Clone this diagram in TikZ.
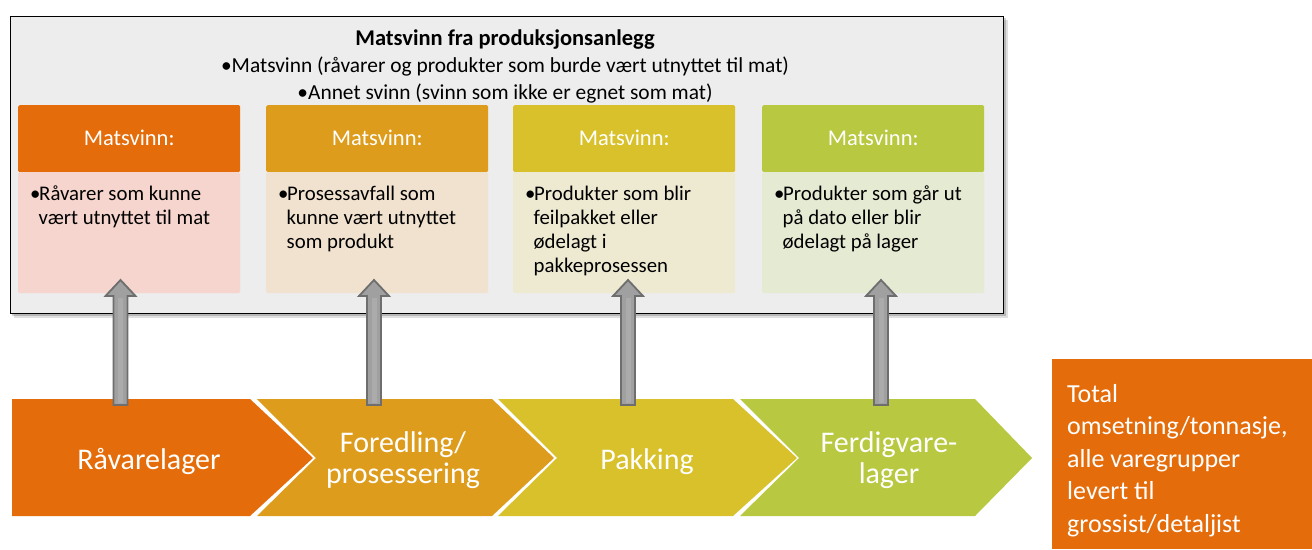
\documentclass[tikz,border=0pt]{standalone}
\usepackage{fontspec}
\setmainfont{Carlito}
\usetikzlibrary{calc}
\definecolor{cA}{HTML}{E46C0A}
\definecolor{cB}{HTML}{DD9C1C}
\definecolor{cC}{HTML}{D8C12A}
\definecolor{cD}{HTML}{B8C840}
\definecolor{lA}{HTML}{F5D5CD}
\definecolor{lB}{HTML}{F1E2CF}
\definecolor{lC}{HTML}{EEEAD2}
\definecolor{lD}{HTML}{E5EAD3}
\definecolor{panel}{HTML}{EDEDED}
\definecolor{arrfill}{HTML}{A0A0A0}
\definecolor{arrline}{HTML}{6E6E6E}
\newcommand{\bl}{\makebox[9pt][l]{•}}
\newcommand{\ind}{\hspace*{8.5pt}}
\tikzset{
  hdr/.style={minimum width=222pt, minimum height=67pt, inner sep=0pt, rounded corners=1.5pt},
  bodybox/.style={anchor=north west, minimum width=222pt, minimum height=121pt, inner sep=0pt, rounded corners=1.5pt},
  bodytxt/.style={anchor=base west, inner sep=0pt, font=\fontsize{20.8}{24}\selectfont},
  titletxt/.style={anchor=base, inner sep=0pt, font=\fontsize{21.4}{24}\selectfont},
  chevtxt/.style={anchor=base, inner sep=0pt, text=white, font=\fontsize{30}{31.5}\selectfont},
  garrow/.style={fill=arrfill, draw=arrline, line width=1.8pt, line join=miter},
}
\newcommand{\chev}[5]{% color, start, topright, tip, notched(1/0)
  \fill[#1] (#2,399) -- (#3,399) -- (#4,458) -- (#3,516) -- (#2,516)
    \ifnum#5=1 -- ($(#2,458)+(59,0)$)\fi -- cycle;}
\newcommand{\uparr}[2]{% start coordinate, end coordinate
  \draw[garrow] ($(#1)+(-7,0)$) -- ($(#2)+(-7,16)$) -- ($(#2)+(-15,16)$) -- (#2)
    -- ($(#2)+(15,16)$) -- ($(#2)+(7,16)$) -- ($(#1)+(7,0)$) -- cycle;
  \fill[white, opacity=0.12] ($(#1)+(-2.5,-2)$) rectangle ($(#2)+(2.5,18)$);}
\begin{document}
\begin{tikzpicture}[x=1pt,y=-1pt]
\useasboundingbox[fill=white] (0,0) rectangle (1312,549);
% panel shadow
\fill[black, opacity=0.12] (14,20) rectangle (1008,318);
\fill[black, opacity=0.18] (12,18) rectangle (1006,316);
\node[draw=black, fill=panel, line width=1.3pt, anchor=north west, minimum width=993pt, minimum height=297pt, inner sep=0pt] (panel) at (10,16) {};
% title lines
\node[titletxt, font=\fontsize{22.5}{24}\selectfont] (t1) at (505,45) {\textbf{Matsvinn fra produksjonsanlegg}};
\node[titletxt] (t2) at (505,72) {•Matsvinn (råvarer og produkter som burde vært utnyttet til mat)};
\node[titletxt] (t3) at (505,99) {•Annet svinn (svinn som ikke er egnet som mat)};
% headers
\node[hdr, fill=cA, anchor=north west] (h1) at (18,105) {};
\node[hdr, fill=cB, anchor=north west] (h2) at (266,105) {};
\node[hdr, fill=cC, anchor=north west] (h3) at (513,105) {};
\node[hdr, fill=cD, anchor=north west] (h4) at (762,105) {};
\foreach \i in {1,2,3,4}{
  \node[anchor=base, inner sep=0pt, text=white, font=\fontsize{22.5}{25}\selectfont] (hl\i) at ($(h\i.north)+(0,40.5)$) {Matsvinn:};
}
% bodies
\node[bodybox, fill=lA] (b1) at (18,172) {};
\node[bodybox, fill=lB] (b2) at (266,172) {};
\node[bodybox, fill=lC] (b3) at (513,172) {};
\node[bodybox, fill=lD] (b4) at (762,172) {};
\node[bodytxt] (bt1) at (30,200) {\parbox[t]{215pt}{\raggedright\bl Råvarer som kunne\\\ind vært utnyttet til mat}};
\node[bodytxt] (bt2) at (278,200) {\parbox[t]{215pt}{\raggedright\bl Prosessavfall som\\\ind kunne vært utnyttet\\\ind som produkt}};
\node[bodytxt] (bt3) at (525,200) {\parbox[t]{215pt}{\raggedright\bl Produkter som blir\\\ind feilpakket eller\\\ind ødelagt i\\\ind pakkeprosessen}};
\node[bodytxt] (bt4) at (774,200) {\parbox[t]{215pt}{\raggedright\bl Produkter som går ut\\\ind på dato eller blir\\\ind ødelagt på lager}};
% chevrons
\chev{cA}{12}{250}{313}{0}
\chev{cB}{257}{492}{554}{1}
\chev{cC}{498}{733}{797}{1}
\chev{cD}{740}{975}{1032}{1}
\node[chevtxt] (c1) at (149,469) {Råvarelager};
\node[chevtxt] (c2) at (403,452) {\parbox[t]{200pt}{\centering Foredling/\\prosessering}};
\node[chevtxt] (c3) at (647,469) {Pakking};
\node[chevtxt] (c4) at (889,452) {\parbox[t]{200pt}{\centering Ferdigvare-\\lager}};
% arrows
\coordinate (s1) at (120.5,405); \coordinate (e1) at (120.5,280);
\coordinate (s2) at (374,405);   \coordinate (e2) at (374,280);
\coordinate (s3) at (628,405);   \coordinate (e3) at (628,280);
\coordinate (s4) at (881,405);   \coordinate (e4) at (881,280);
\uparr{s1}{e1}
\uparr{s2}{e2}
\uparr{s3}{e3}
\uparr{s4}{e4}
% total box
\node[fill=cA, anchor=north west, minimum width=260pt, minimum height=190pt, inner sep=0pt] (tot) at (1052,359) {};
\node[anchor=base west, inner sep=0pt, text=white, font=\fontsize{26}{32.5}\selectfont] (tott) at (1067,402) {\parbox[t]{240pt}{\raggedright Total\\omsetning/tonnasje,\\alle varegrupper\\levert til\\grossist/detaljist}};
\end{tikzpicture}
\end{document}
